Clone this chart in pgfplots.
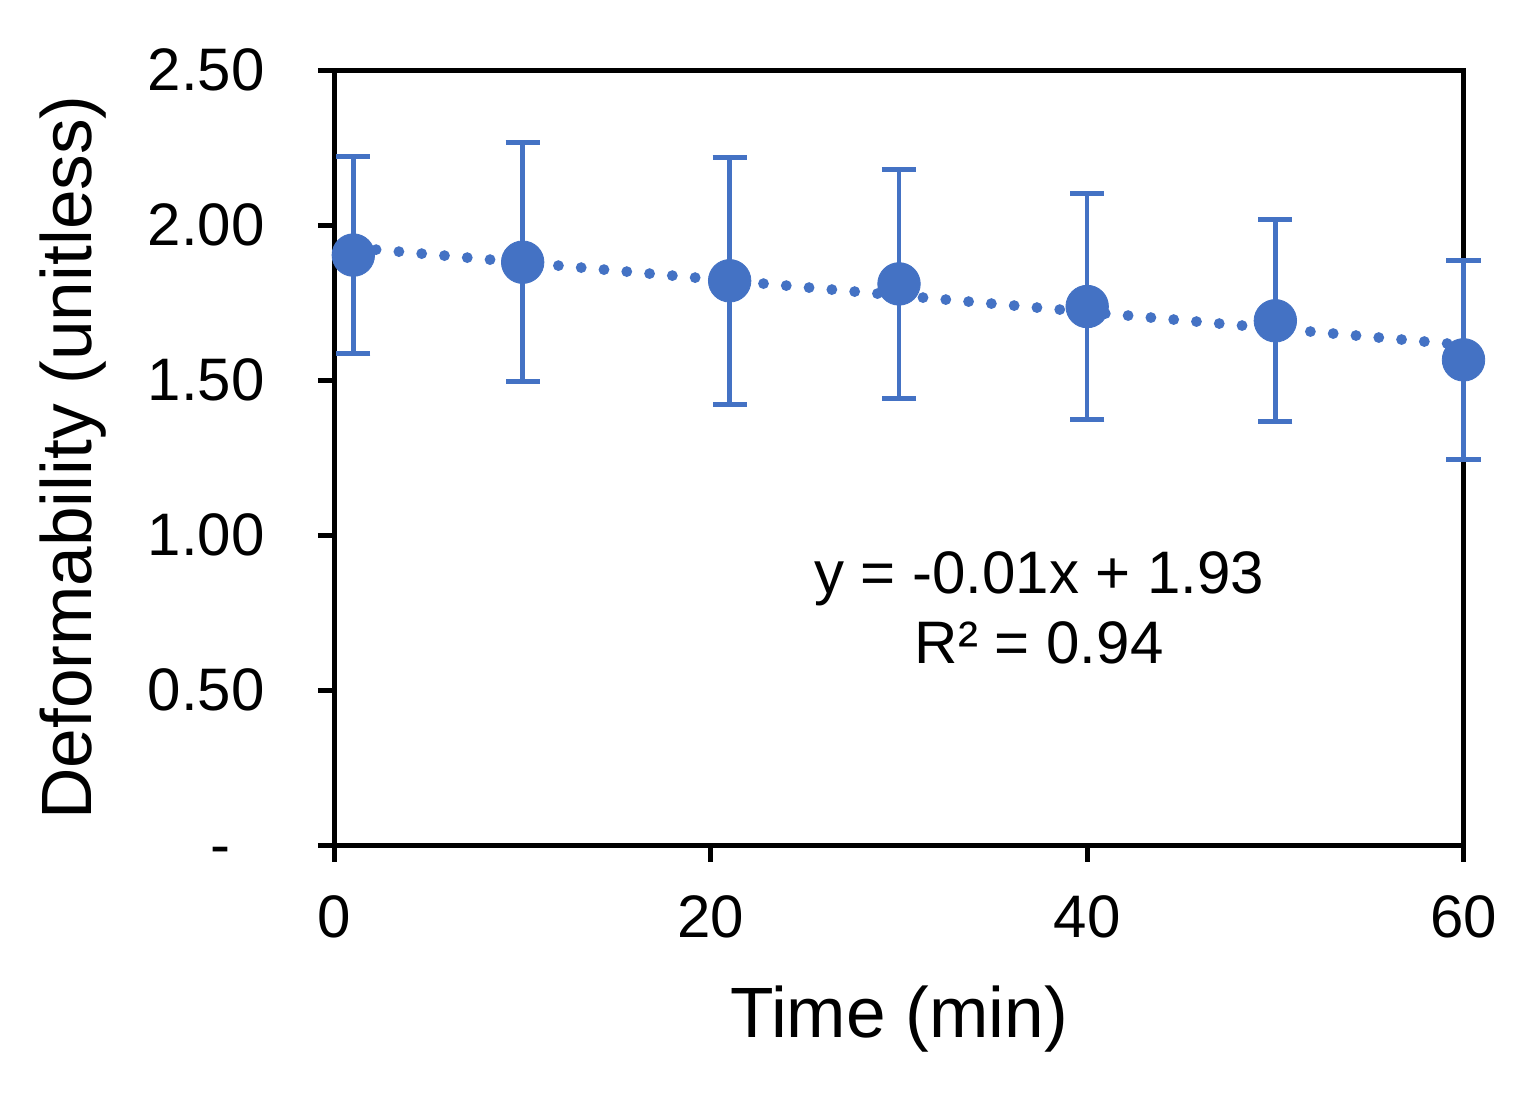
\documentclass[border=0pt]{standalone}
\usepackage{fontspec}
\setmainfont{Liberation Sans}
\usepackage{pgfplots}
\pgfplotsset{compat=1.18}
\definecolor{exblue}{HTML}{4472C4}
\begin{document}
\begin{tikzpicture}
\useasboundingbox[fill=white] (0,0) rectangle (363.84pt,262.56pt);
\begin{axis}[
  at={(80.28pt,59.76pt)}, anchor=south west,
  scale only axis, width=270.96pt, height=186pt,
  xmin=0, xmax=60, ymin=0, ymax=2.5,
  clip=false,
  axis line style={line width=1.2pt, black},
  tick align=outside, major tick length=4pt,
  every tick/.style={line width=1.2pt, black},
  xtick pos=bottom, ytick pos=left,
  xtick={0,20,40,60}, xticklabels={0,20,40,60},
  ytick={0,0.5,1,1.5,2,2.5},
  yticklabels={{\vphantom{0}-\hspace*{8.2pt}},0.50,1.00,1.50,2.00,2.50},
  tick label style={font=\fontsize{14.4}{16}\selectfont, inner sep=0pt},
  xticklabel shift=8pt, yticklabel shift=12.6pt,
  xlabel={Time (min)}, ylabel={Deformability (unitless)},
  every axis x label/.style={at={(axis description cs:0.5,-0.249)}, anchor=base,
    font=\fontsize{17.1}{20}\selectfont, inner sep=0pt},
  every axis y label/.style={at={(axis description cs:-0.2148,0.5)}, rotate=90, anchor=base,
    font=\fontsize{17.1}{20}\selectfont, inner sep=0pt},
]
\addplot[exblue, line width=2.6pt, line cap=round, dash pattern=on 0pt off 5.49pt]
  coordinates {(1,1.927) (60,1.613)};
\addplot[exblue, only marks, mark=*, mark size=5.1pt,
  mark options={fill=exblue, draw=exblue, line width=0.2pt},
  error bars/.cd, y dir=both, y explicit,
  error bar style={line width=1.1pt, exblue},
  error mark options={rotate=90, mark size=4.1pt, line width=1.2pt, exblue}]
  table[x=x, y=y, y error=e] {
x y e
1 1.903 0.319
10 1.880 0.386
21 1.820 0.398
30 1.810 0.370
40 1.737 0.365
50 1.691 0.326
60 1.565 0.321
};
\node[anchor=base, font=\fontsize{14.4}{16}\selectfont, inner sep=0pt] at (axis cs:37.45,0.8097) {y = -0.01x + 1.93};
\node[anchor=base, font=\fontsize{14.4}{16}\selectfont, inner sep=0pt] at (axis cs:37.45,0.587) {R² = 0.94};
\end{axis}
\end{tikzpicture}
\end{document}
